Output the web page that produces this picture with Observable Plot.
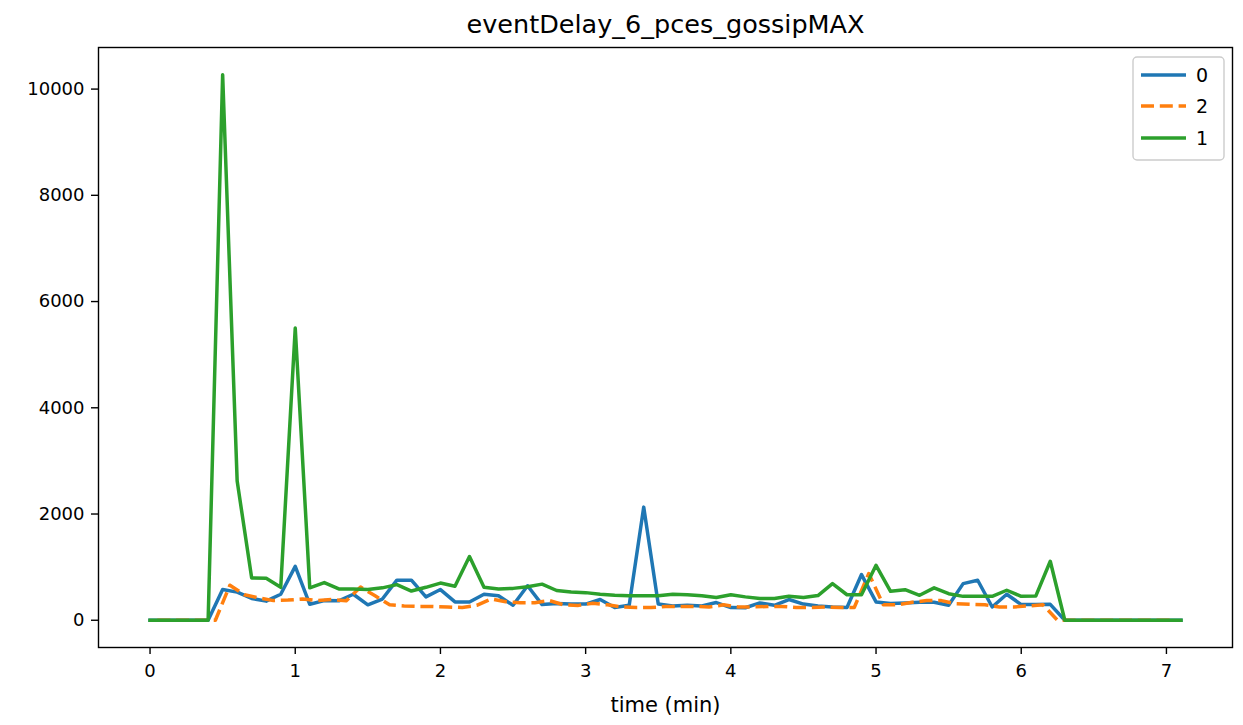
<!DOCTYPE html>
<html>
<head>
<meta charset="utf-8">
<script src="https://cdn.jsdelivr.net/npm/d3@7"></script>
<script src="https://cdn.jsdelivr.net/npm/@observablehq/plot@0.6"></script>
<style>
  html, body { margin: 0; padding: 0; background: #fff; }
  #chart svg { display: block; }
</style>
</head>
<body>
<div id="chart"></div>
<script>
const title = "eventDelay_6_pces_gossipMAX";
const xLabel = "time (min)";
const seriesNames = ["0", "2", "1"];
const seriesColors = ["#1f77b4", "#ff7f0e", "#2ca02c"];
const xTicks = [0, 1, 2, 3, 4, 5, 6, 7];
const yTicks = [0, 2000, 4000, 6000, 8000, 10000];

const times = [0.0,0.1,0.2,0.3,0.4,0.5,0.6,0.7,0.8,0.9,1.0,1.1,1.2,1.3,1.4,1.5,1.6,1.7,1.8,1.9,
  2.0,2.1,2.2,2.3,2.4,2.5,2.6,2.7,2.8,2.9,3.0,3.1,3.2,3.3,3.4,3.5,3.6,3.7,3.8,3.9,
  4.0,4.1,4.2,4.3,4.4,4.5,4.6,4.7,4.8,4.9,5.0,5.1,5.2,5.3,5.4,5.5,5.6,5.7,5.8,5.9,
  6.0,6.1,6.2,6.3,6.4,6.5,6.6,6.7,6.8,6.9,7.0,7.1];

const timesOffset = [0.05,0.15,0.25,0.35,0.45,0.55,0.65,0.75,0.85,0.95,1.05,1.15,1.25,1.35,1.45,1.55,1.65,1.75,1.85,1.95,
  2.05,2.15,2.25,2.35,2.45,2.55,2.65,2.75,2.85,2.95,3.05,3.15,3.25,3.35,3.45,3.55,3.65,3.75,3.85,3.95,
  4.05,4.15,4.25,4.35,4.45,4.55,4.65,4.75,4.85,4.95,5.05,5.15,5.25,5.35,5.45,5.55,5.65,5.75,5.85,5.95,
  6.05,6.15,6.25,6.35,6.45,6.55,6.65,6.75,6.85,6.95,7.05];

const series0 = [0,0,0,0,0, 580,530,410,360,490, 1015,300,370,365,490, 290,400,755,755,440,
  578,345,345,490,460, 282,650,295,314,304, 304,390,240,282,2130, 304,270,282,270,333,
  239,235,326,282,390, 304,270,250,239,860, 345,314,326,340,340, 282,690,753,250,490,
  295,295,300,0,0, 0,0,0,0,0, 0,0];

const series2 = [0,0,0,0,0, 660,480,420,370,380, 400,370,390,365,625, 460,290,270,260,260,
  250,240,280,400,350, 330,330,370,290,280, 320,290,250,240,240, 260,260,260,250,290,
  250,250,260,260,240, 240,250,240,240,880, 290,290,340,370,370, 310,300,290,250,250,
  270,290,0,0,0, 0,0,0,0,0, 0];

const series1 = [0,0,0,0,0, 10270,2620,795,790,620, 5500,610,710,590,590, 580,610,670,550,620,
  700,640,1200,620,590, 600,630,680,560,530, 520,490,470,460,460, 460,490,480,460,430,
  480,440,410,410,450, 430,465,690,480,480, 1035,545,575,470,610, 500,450,450,450,565,
  450,455,1110,0,0, 0,0,0,0,0, 0,0];

const rows0 = times.map((t, i) => ({t, v: series0[i], s: "0"}));
const rows2 = timesOffset.map((t, i) => ({t, v: series2[i], s: "2"}));
const rows1 = times.map((t, i) => ({t, v: series1[i], s: "1"}));

const W = 1243, H = 725;
const mL = 98, mR = 11, mT = 47, mB = 78;
const lw = 3.5;
const font = "'DejaVu Sans', sans-serif";
const tickFont = 18;

const chart = Plot.plot({
  width: W,
  height: H,
  marginLeft: mL,
  marginRight: mR,
  marginTop: mT,
  marginBottom: mB,
  style: {fontFamily: font, fontSize: tickFont + "px", color: "black", background: "white", overflow: "visible"},
  x: {domain: [-0.355, 7.455], label: null},
  y: {domain: [-513, 10783], label: null},
  marks: [
    Plot.line(rows0, {x: "t", y: "v", stroke: seriesColors[0], strokeWidth: lw, strokeLinejoin: "round", strokeLinecap: "square"}),
    Plot.line(rows2, {x: "t", y: "v", stroke: seriesColors[1], strokeWidth: lw, strokeDasharray: "13,5.8", strokeLinejoin: "round", strokeLinecap: "butt"}),
    Plot.line(rows1, {x: "t", y: "v", stroke: seriesColors[2], strokeWidth: lw, strokeLinejoin: "round", strokeLinecap: "square"}),
    Plot.frame({stroke: "black", strokeWidth: 1.4}),
    Plot.axisX({ticks: xTicks, tickFormat: d3.format("d"), tickSize: 7, tickPadding: 10, stroke: "black", strokeWidth: 1.4, label: null, fontSize: tickFont + "px"}),
    Plot.axisY({ticks: yTicks, tickFormat: d3.format("d"), tickSize: 7, tickPadding: 7, stroke: "black", strokeWidth: 1.4, label: null, fontSize: tickFont + "px"}),
    Plot.text([title], {text: d => d, frameAnchor: "top", lineAnchor: "middle", dy: -23, fontSize: 25.5, fill: "black"}),
    Plot.text([xLabel], {text: d => d, frameAnchor: "bottom", lineAnchor: "middle", dy: 58, fontSize: 21, fill: "black"})
  ]
});

document.getElementById("chart").appendChild(chart);

// Legend (upper right)
const svg = d3.select(chart);
const lg = svg.append("g").attr("class", "legend");
const bx = 1133, by = 57, bw = 91, bh = 103;
lg.append("rect")
  .attr("x", bx).attr("y", by).attr("width", bw).attr("height", bh)
  .attr("rx", 4).attr("ry", 4)
  .attr("fill", "white").attr("fill-opacity", 0.8)
  .attr("stroke", "#cccccc").attr("stroke-width", 1.4);
const rowY = [75, 106, 138];
seriesNames.forEach((name, i) => {
  lg.append("line")
    .attr("x1", 1141).attr("x2", 1186)
    .attr("y1", rowY[i]).attr("y2", rowY[i])
    .attr("stroke", seriesColors[i]).attr("stroke-width", lw)
    .attr("stroke-dasharray", name === "2" ? "13,5.8" : null);
  lg.append("text")
    .attr("x", 1202).attr("y", rowY[i])
    .attr("dy", "0.36em")
    .attr("font-family", font).attr("font-size", "19px")
    .attr("fill", "black")
    .text(name);
});
</script>
</body>
</html>
